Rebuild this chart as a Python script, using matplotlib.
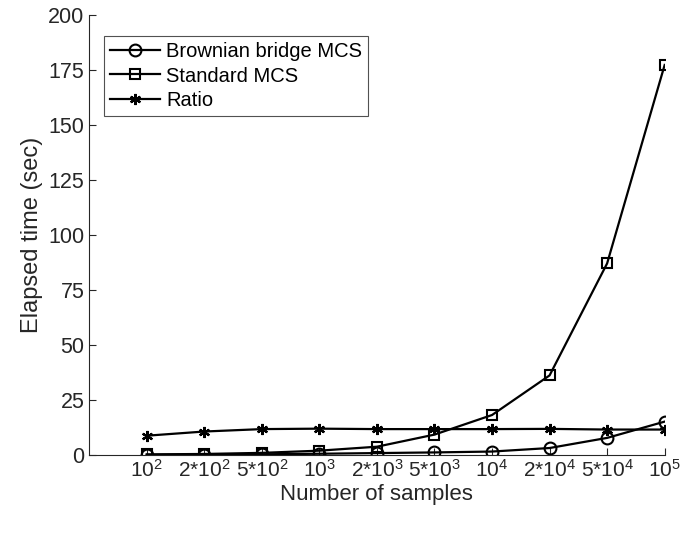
import matplotlib
matplotlib.use('Agg')
import matplotlib.pyplot as plt
import numpy as np

# liczba probek (etykiety osi x) i zmierzone czasy
sample_labels = ['10$^{2}$', '2*10$^{2}$', '5*10$^{2}$', '10$^{3}$', '2*10$^{3}$',
                 '5*10$^{3}$', '10$^{4}$', '2*10$^{4}$', '5*10$^{4}$', '10$^{5}$']
brownian = [0.15, 0.25, 0.35, 0.6, 0.9, 1.2, 1.6, 3.2, 7.8, 15.2]
standard = [0.3, 0.5, 1.0, 2.0, 3.8, 9.3, 18.2, 36.2, 87.1, 177.3]
ratio = [8.8, 10.7, 11.8, 12.0, 11.8, 11.8, 11.8, 11.9, 11.6, 11.6]

plt.rcParams['font.family'] = ['Liberation Sans', 'DejaVu Sans']
plt.rcParams['mathtext.fontset'] = 'custom'
plt.rcParams['mathtext.rm'] = 'Liberation Sans'
plt.rcParams['mathtext.it'] = 'Liberation Sans:italic'

gray = '#262626'
x = np.arange(1, len(sample_labels) + 1)

fig = plt.figure(figsize=(6.81, 5.36), dpi=100)
ax = fig.add_axes([0.131, 0.151, 0.845, 0.821])

asterisk = (6, 2, 0)
ax.plot(x, brownian, color='black', lw=1.6, marker='o', ms=8.5, mfc='none', mew=1.5,
        label='Brownian bridge MCS')
ax.plot(x, standard, color='black', lw=1.6, marker='s', ms=7.5, mfc='none', mew=1.5,
        label='Standard MCS')
ax.plot(x, ratio, color='black', lw=1.6, marker=asterisk, ms=8, mew=1.6,
        label='Ratio')

ax.set_xlim(0, 10)
ax.set_ylim(0, 200)
ax.set_xticks(x)
ax.set_xticklabels(sample_labels)
ax.set_yticks(np.arange(0, 201, 25))

for s in ['top', 'right']:
    ax.spines[s].set_visible(False)
for s in ['left', 'bottom']:
    ax.spines[s].set_color(gray)
    ax.spines[s].set_linewidth(0.8)
ax.tick_params(direction='in', length=5, width=0.8, color=gray, labelcolor=gray,
               labelsize=15.5)
ax.tick_params(axis='x', labelsize=15, pad=3)

ax.set_xlabel('Number of samples', fontsize=16, color=gray, labelpad=2)
ax.set_ylabel('Elapsed time (sec)', fontsize=17, color=gray, labelpad=4)

leg = ax.legend(loc='upper left', bbox_to_anchor=(0.015, 0.965), fontsize=14.5,
                frameon=True, fancybox=False, handlelength=2.5, borderpad=0.3,
                labelspacing=0.25, handletextpad=0.3, borderaxespad=0.3)
leg.get_frame().set_edgecolor(gray)
leg.get_frame().set_linewidth(0.8)

fig.savefig('out.png', dpi=100)
